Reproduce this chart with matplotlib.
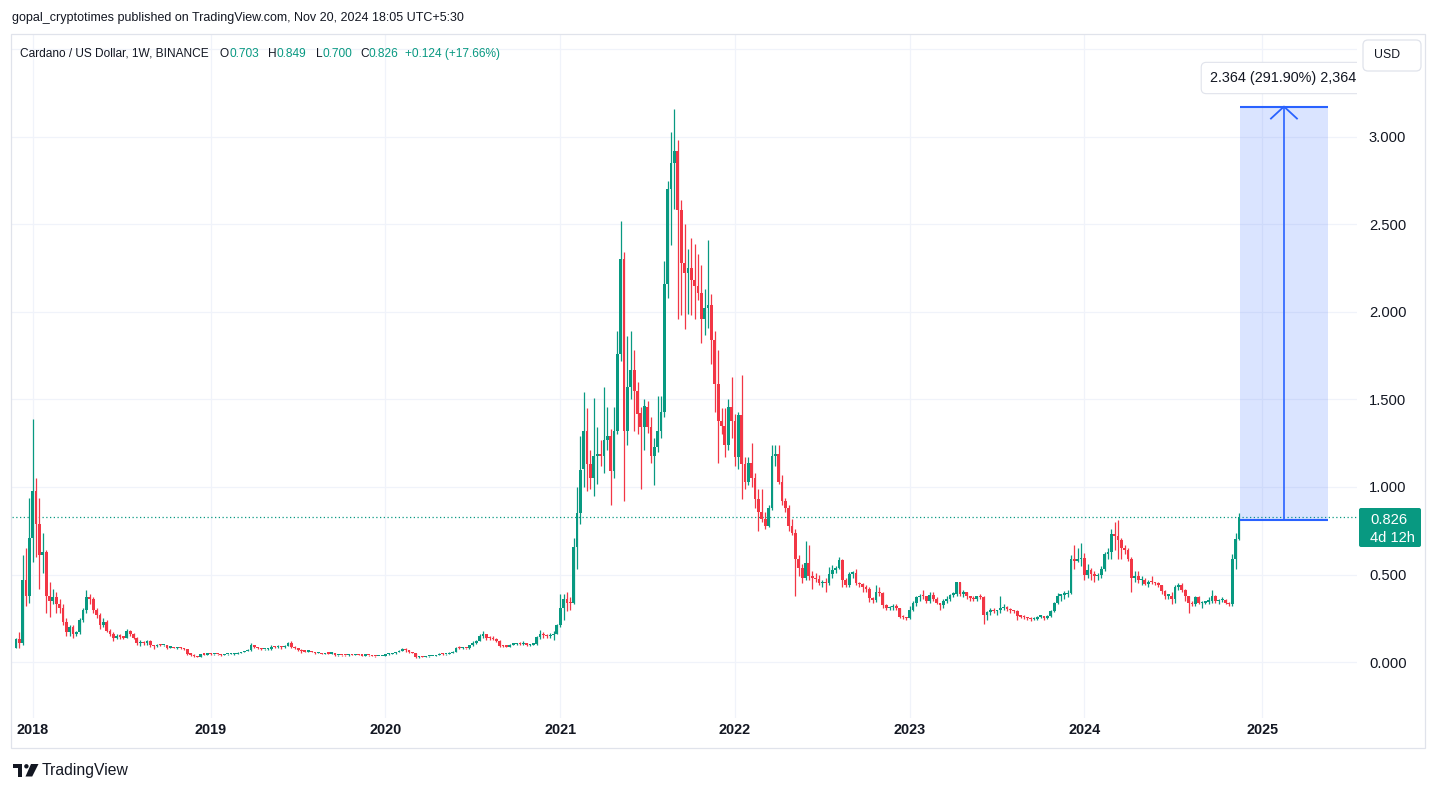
import matplotlib
matplotlib.use("Agg")
import matplotlib.pyplot as plt
import matplotlib.transforms as mtransforms
import numpy as np
from matplotlib.patches import Rectangle, FancyBboxPatch, Polygon, Circle

# ---------------- data: weekly ADA/USD candles, first bar = week of 2017-11-27 ----------------
first_open = 0.082

close_2018 = [0.13, 0.11, 0.47, 0.38, 0.71, 0.98, 0.79, 0.61, 0.63, 0.38,
              0.35, 0.37, 0.33, 0.31, 0.23, 0.17, 0.20, 0.16, 0.17, 0.24,
              0.30, 0.37, 0.36, 0.30, 0.27, 0.21, 0.23, 0.18, 0.16, 0.14,
              0.15, 0.145, 0.14, 0.18, 0.16, 0.14, 0.11, 0.115, 0.11, 0.12,
              0.10, 0.09, 0.10, 0.095, 0.098, 0.082, 0.083, 0.081, 0.082, 0.079,
              0.072, 0.048, 0.042, 0.033, 0.030, 0.045, 0.042, 0.048]
high_2018 = [0.14, 0.17, 0.61, 0.65, 0.94, 1.39, 1.05, 0.94, 0.74, 0.64,
             0.46, 0.42, 0.40, 0.36, 0.33, 0.25, 0.21, 0.21, 0.18, 0.25,
             0.31, 0.41, 0.39, 0.37, 0.31, 0.28, 0.25, 0.24, 0.19, 0.17,
             0.16, 0.16, 0.15, 0.19, 0.185, 0.165, 0.145, 0.125, 0.12, 0.125,
             0.125, 0.10, 0.105, 0.105, 0.10, 0.10, 0.088, 0.085, 0.085, 0.085,
             0.08, 0.073, 0.05, 0.043, 0.034, 0.048, 0.050, 0.052]
low_2018 = [0.08, 0.08, 0.10, 0.32, 0.34, 0.57, 0.60, 0.42, 0.51, 0.28,
            0.26, 0.33, 0.28, 0.28, 0.21, 0.15, 0.15, 0.14, 0.15, 0.16,
            0.23, 0.28, 0.33, 0.28, 0.25, 0.19, 0.20, 0.17, 0.15, 0.12,
            0.13, 0.13, 0.13, 0.14, 0.15, 0.13, 0.10, 0.09, 0.10, 0.10,
            0.085, 0.075, 0.085, 0.09, 0.09, 0.075, 0.078, 0.078, 0.077, 0.075,
            0.068, 0.040, 0.035, 0.030, 0.026, 0.029, 0.039, 0.040]

close_2019 = [0.043, 0.045, 0.043, 0.040, 0.043, 0.044, 0.045, 0.047, 0.053, 0.058,
              0.063, 0.066, 0.100, 0.086, 0.080, 0.074, 0.074, 0.074, 0.088, 0.084,
              0.090, 0.084, 0.092, 0.110, 0.088, 0.078, 0.069, 0.064, 0.060, 0.061,
              0.057, 0.050, 0.052, 0.047, 0.050, 0.048, 0.050, 0.038, 0.040, 0.039,
              0.038, 0.042, 0.041, 0.043, 0.040, 0.036, 0.039, 0.038, 0.035, 0.034,
              0.034, 0.036]
high_2019 = [0.050, 0.047, 0.046, 0.044, 0.044, 0.046, 0.052, 0.049, 0.055, 0.060,
             0.064, 0.073, 0.107, 0.100, 0.088, 0.082, 0.077, 0.078, 0.096, 0.094,
             0.096, 0.092, 0.098, 0.113, 0.120, 0.092, 0.080, 0.072, 0.065, 0.063,
             0.063, 0.058, 0.055, 0.053, 0.052, 0.051, 0.056, 0.050, 0.042, 0.042,
             0.040, 0.046, 0.043, 0.045, 0.044, 0.041, 0.040, 0.040, 0.038, 0.036,
             0.036, 0.037]
low_2019 = [0.040, 0.041, 0.041, 0.037, 0.038, 0.042, 0.043, 0.041, 0.045, 0.051,
            0.056, 0.061, 0.065, 0.082, 0.076, 0.068, 0.066, 0.070, 0.070, 0.078,
            0.080, 0.077, 0.082, 0.090, 0.078, 0.072, 0.065, 0.053, 0.057, 0.057,
            0.055, 0.048, 0.049, 0.044, 0.045, 0.046, 0.045, 0.036, 0.036, 0.037,
            0.036, 0.035, 0.039, 0.040, 0.039, 0.034, 0.033, 0.037, 0.034, 0.031,
            0.033, 0.033]

close_2020 = [0.043, 0.047, 0.050, 0.056, 0.064, 0.072, 0.068, 0.056, 0.052, 0.030,
              0.031, 0.029, 0.032, 0.034, 0.035, 0.040, 0.046, 0.044, 0.046, 0.053,
              0.060, 0.080, 0.078, 0.080, 0.078, 0.097, 0.110, 0.120, 0.150, 0.158,
              0.140, 0.136, 0.130, 0.118, 0.093, 0.090, 0.088, 0.100, 0.102, 0.106,
              0.104, 0.108, 0.096, 0.100, 0.102, 0.145, 0.160, 0.152, 0.148, 0.155,
              0.160, 0.210]
high_2020 = [0.045, 0.050, 0.053, 0.058, 0.067, 0.080, 0.078, 0.070, 0.058, 0.053,
             0.033, 0.033, 0.034, 0.037, 0.036, 0.042, 0.050, 0.050, 0.048, 0.056,
             0.064, 0.088, 0.090, 0.085, 0.082, 0.100, 0.118, 0.125, 0.158, 0.180,
             0.162, 0.150, 0.150, 0.135, 0.126, 0.098, 0.098, 0.103, 0.106, 0.110,
             0.112, 0.118, 0.110, 0.104, 0.107, 0.150, 0.185, 0.170, 0.160, 0.167,
             0.178, 0.215]
low_2020 = [0.034, 0.041, 0.044, 0.048, 0.055, 0.062, 0.060, 0.052, 0.049, 0.022,
            0.025, 0.027, 0.028, 0.031, 0.032, 0.034, 0.039, 0.041, 0.041, 0.045,
            0.050, 0.058, 0.074, 0.074, 0.074, 0.076, 0.093, 0.105, 0.118, 0.140,
            0.126, 0.128, 0.125, 0.112, 0.085, 0.084, 0.084, 0.083, 0.095, 0.097,
            0.100, 0.100, 0.094, 0.092, 0.098, 0.100, 0.130, 0.140, 0.140, 0.140,
            0.125, 0.160]

close_2021 = [0.31, 0.36, 0.34, 0.335, 0.66, 0.85, 1.10, 1.32, 1.13, 1.05,
              1.18, 1.19, 1.18, 1.27, 1.29, 1.09, 1.32, 1.76, 2.30, 1.32,
              1.57, 1.67, 1.55, 1.42, 1.34, 1.46, 1.345, 1.18, 1.23, 1.32,
              1.43, 2.16, 2.70, 2.85, 2.92, 2.58, 2.28, 2.22, 2.25, 2.18,
              2.15, 2.11, 1.96, 2.02, 2.04, 1.84, 1.59, 1.375, 1.35, 1.24,
              1.46, 1.38]
high_2021 = [0.39, 0.39, 0.40, 0.37, 0.71, 1.00, 1.29, 1.54, 1.45, 1.21,
             1.51, 1.34, 1.27, 1.57, 1.46, 1.33, 1.46, 1.89, 2.52, 2.34,
             1.86, 1.89, 1.78, 1.60, 1.46, 1.50, 1.49, 1.40, 1.28, 1.52,
             1.52, 2.29, 2.75, 3.03, 3.16, 2.98, 2.64, 2.50, 2.36, 2.42,
             2.39, 2.33, 2.27, 2.13, 2.41, 2.10, 1.89, 1.78, 1.45, 1.45,
             1.50, 1.63]
low_2021 = [0.20, 0.24, 0.29, 0.30, 0.33, 0.53, 0.79, 1.00, 0.98, 0.99,
            0.95, 1.02, 1.12, 1.08, 1.21, 0.90, 1.05, 1.30, 1.72, 0.92,
            1.24, 1.50, 1.32, 1.30, 0.99, 1.21, 1.31, 1.14, 1.01, 1.20,
            1.28, 1.40, 2.08, 2.38, 2.59, 1.96, 1.98, 1.90, 1.99, 1.98,
            1.96, 2.07, 1.82, 1.87, 1.91, 1.70, 1.43, 1.14, 1.30, 1.17,
            1.21, 1.28]

close_2022 = [1.17, 1.41, 1.13, 1.03, 1.14, 1.05, 0.93, 0.86, 0.82, 0.78,
              0.88, 1.18, 1.19, 1.03, 0.92, 0.88, 0.78, 0.735, 0.59, 0.535,
              0.48, 0.565, 0.49, 0.48, 0.475, 0.45, 0.46, 0.45, 0.505, 0.525,
              0.535, 0.585, 0.47, 0.44, 0.505, 0.51, 0.45, 0.445, 0.43, 0.42,
              0.365, 0.355, 0.40, 0.395, 0.325, 0.31, 0.315, 0.318, 0.31, 0.26,
              0.255, 0.25]
high_2022 = [1.42, 1.43, 1.64, 1.17, 1.17, 1.25, 1.08, 0.99, 0.99, 0.86,
             0.90, 1.24, 1.24, 1.24, 1.07, 0.94, 0.90, 0.82, 0.76, 0.61,
             0.56, 0.69, 0.67, 0.52, 0.51, 0.50, 0.47, 0.48, 0.545, 0.555,
             0.55, 0.60, 0.59, 0.48, 0.515, 0.52, 0.53, 0.46, 0.45, 0.44,
             0.43, 0.37, 0.44, 0.43, 0.40, 0.33, 0.32, 0.33, 0.33, 0.31,
             0.27, 0.26]
low_2022 = [1.12, 1.10, 0.93, 0.99, 1.01, 1.00, 0.88, 0.75, 0.80, 0.76,
            0.77, 0.87, 1.12, 1.02, 0.90, 0.86, 0.75, 0.725, 0.38, 0.49,
            0.45, 0.47, 0.47, 0.42, 0.46, 0.44, 0.43, 0.40, 0.44, 0.48,
            0.51, 0.53, 0.43, 0.43, 0.43, 0.48, 0.44, 0.43, 0.40, 0.40,
            0.345, 0.34, 0.345, 0.38, 0.31, 0.30, 0.30, 0.30, 0.30, 0.25,
            0.245, 0.24]

close_2023 = [0.30, 0.34, 0.37, 0.38, 0.375, 0.35, 0.385, 0.36, 0.335, 0.325,
              0.35, 0.36, 0.385, 0.39, 0.455, 0.39, 0.40, 0.38, 0.365, 0.36,
              0.375, 0.37, 0.27, 0.285, 0.295, 0.29, 0.295, 0.31, 0.31, 0.305,
              0.295, 0.29, 0.265, 0.26, 0.255, 0.25, 0.245, 0.245, 0.26, 0.262,
              0.25, 0.265, 0.29, 0.34, 0.38, 0.385, 0.39, 0.395, 0.59, 0.575,
              0.59, 0.595]
high_2023 = [0.32, 0.35, 0.38, 0.39, 0.41, 0.38, 0.40, 0.40, 0.37, 0.34,
             0.36, 0.38, 0.39, 0.40, 0.46, 0.46, 0.41, 0.40, 0.38, 0.375,
             0.38, 0.39, 0.38, 0.29, 0.31, 0.31, 0.30, 0.38, 0.33, 0.32,
             0.31, 0.30, 0.30, 0.27, 0.27, 0.26, 0.255, 0.255, 0.265, 0.27,
             0.265, 0.27, 0.30, 0.345, 0.395, 0.39, 0.405, 0.41, 0.61, 0.67,
             0.65, 0.678]
low_2023 = [0.245, 0.29, 0.32, 0.35, 0.36, 0.34, 0.34, 0.35, 0.33, 0.30,
            0.31, 0.34, 0.35, 0.37, 0.38, 0.38, 0.37, 0.36, 0.35, 0.35,
            0.35, 0.36, 0.22, 0.24, 0.27, 0.28, 0.27, 0.28, 0.30, 0.29,
            0.28, 0.28, 0.24, 0.25, 0.245, 0.24, 0.235, 0.24, 0.24, 0.25,
            0.24, 0.245, 0.26, 0.285, 0.33, 0.35, 0.36, 0.37, 0.39, 0.53,
            0.57, 0.55]

close_2024 = [0.50, 0.525, 0.505, 0.49, 0.495, 0.53, 0.62, 0.63, 0.73, 0.72,
              0.70, 0.65, 0.64, 0.59, 0.48, 0.49, 0.47, 0.47, 0.445, 0.46,
              0.455, 0.45, 0.44, 0.405, 0.38, 0.38, 0.36, 0.43, 0.44, 0.41,
              0.375, 0.335, 0.33, 0.37, 0.335, 0.34, 0.345, 0.35, 0.38, 0.35,
              0.352, 0.355, 0.34, 0.33, 0.59, 0.703, 0.826]
high_2024 = [0.625, 0.56, 0.54, 0.52, 0.51, 0.55, 0.63, 0.65, 0.76, 0.80,
             0.81, 0.71, 0.67, 0.65, 0.60, 0.52, 0.52, 0.49, 0.48, 0.47,
             0.49, 0.46, 0.46, 0.44, 0.41, 0.39, 0.40, 0.44, 0.45, 0.45,
             0.42, 0.38, 0.35, 0.38, 0.375, 0.35, 0.35, 0.37, 0.41, 0.385,
             0.36, 0.37, 0.36, 0.345, 0.62, 0.74, 0.849]
low_2024 = [0.47, 0.48, 0.47, 0.46, 0.47, 0.48, 0.52, 0.59, 0.59, 0.64,
            0.59, 0.59, 0.62, 0.58, 0.40, 0.46, 0.45, 0.44, 0.44, 0.43,
            0.445, 0.44, 0.43, 0.39, 0.36, 0.36, 0.33, 0.34, 0.41, 0.40,
            0.35, 0.28, 0.32, 0.32, 0.33, 0.31, 0.33, 0.33, 0.34, 0.34,
            0.33, 0.345, 0.33, 0.32, 0.32, 0.53, 0.700]

price_ticks = [0.0, 0.5, 1.0, 1.5, 2.0, 2.5, 3.0]
year_bars = [5, 58, 110, 162, 214, 266, 318, 371]     # first weekly bar of each year
year_labels = ['2018', '2019', '2020', '2021', '2022', '2023', '2024', '2025']

measure_start, measure_delta = 0.81, 2.364
measure_label = "2.364 (291.90%) 2,364"
measure_bars = (364.3, 390.5)

header = "gopal_cryptotimes published on TradingView.com, Nov 20, 2024 18:05 UTC+5:30"
symbol = "Cardano / US Dollar, 1W, BINANCE"
ohlc_last = [("O", "0.703"), ("H", "0.849"), ("L", "0.700"), ("C", "0.826")]
change_txt = "+0.124 (+17.66%)"
countdown = "4d 12h"

# ---------------- assemble ----------------
closes = close_2018 + close_2019 + close_2020 + close_2021 + close_2022 + close_2023 + close_2024
highs = high_2018 + high_2019 + high_2020 + high_2021 + high_2022 + high_2023 + high_2024
lows = low_2018 + low_2019 + low_2020 + low_2021 + low_2022 + low_2023 + low_2024
assert len(closes) == len(highs) == len(lows) == 365, (len(closes), len(highs), len(lows))
opens = [first_open] + closes[:-1]

# ---------------- figure ----------------
W, H = 1438, 792
fig = plt.figure(figsize=(W / 100, H / 100), dpi=100)
fig.patch.set_facecolor('white')
renderer = fig.canvas.get_renderer()
PX = mtransforms.IdentityTransform()

FAM = ['Liberation Sans', 'DejaVu Sans']
DARK = '#131722'
UP = '#089981'
DOWN = '#f23645'
GRID = '#f0f3fa'
BORDER = '#e0e3eb'
BLUE = '#2962ff'


def fx(x):
    return x / W


def fy(y):
    return 1 - y / H


def text_width(s, size, weight='normal'):
    t = fig.text(0, 0, s, fontsize=size, family=FAM, weight=weight)
    w = t.get_window_extent(renderer=renderer).width
    t.remove()
    return w


def fit(s, target, weight='normal'):
    return 10.0 * target / text_width(s, 10.0, weight)


# plot geometry (pixels)
X0_PX, STEP_PX = 15.9, 3.36
Y0_PX, UNIT_PX = 662.0, 175.0
AX_L, AX_R, AX_T, AX_B = 12, 1357, 35, 718

ax = fig.add_axes([fx(AX_L), fy(AX_B), (AX_R - AX_L) / W, (AX_B - AX_T) / H])
ax.set_xlim((AX_L - X0_PX) / STEP_PX, (AX_R - X0_PX) / STEP_PX)
ax.set_ylim((Y0_PX - AX_B) / UNIT_PX, (Y0_PX - AX_T) / UNIT_PX)
ax.set_facecolor('white')
for sp in ax.spines.values():
    sp.set_visible(False)

# grid
for v in price_ticks + [3.5]:
    ax.axhline(v, color=GRID, lw=0.9, zorder=0)
for b in year_bars:
    ax.axvline(b, color=GRID, lw=0.9, zorder=0)

# candles
idx = np.arange(len(closes))
o = np.array(opens)
c = np.array(closes)
hi = np.maximum(np.array(highs), np.maximum(o, c))
lo = np.minimum(np.array(lows), np.minimum(o, c))
col = np.where(c >= o, UP, DOWN)
ax.vlines(idx, lo, hi, colors=col, lw=0.9, zorder=3)
body = np.maximum(np.abs(c - o), 0.007)
ax.bar(idx, body, bottom=np.minimum(o, c), width=0.82, color=col, lw=0, zorder=4)

# last price dotted line
ax.axhline(closes[-1], color=UP, lw=0.9, ls=(0, (1, 2)), zorder=2)

# measure tool
x0m, x1m = measure_bars
top = measure_start + measure_delta
ax.add_patch(Rectangle((x0m, measure_start), x1m - x0m, measure_delta,
                       facecolor=BLUE, alpha=0.17, lw=0, zorder=5))
ax.hlines([measure_start, top], x0m, x1m, color=BLUE, lw=1.5, zorder=6)
xm = (x0m + x1m) / 2
ax.vlines(xm, measure_start, top, color=BLUE, lw=1.2, zorder=6)
ax.plot([xm - 13 / STEP_PX, xm, xm + 13 / STEP_PX],
        [top - 12 / UNIT_PX, top, top - 12 / UNIT_PX], color=BLUE, lw=1.3, zorder=6)
msz = fit(measure_label, 147)
ax.text((1283 - X0_PX) / STEP_PX, (Y0_PX - 78) / UNIT_PX, measure_label, ha='center', va='center',
        fontsize=msz, family=FAM, color=DARK, zorder=10, clip_on=True,
        bbox=dict(boxstyle='round,pad=0.6,rounding_size=0.35', fc='white', ec=BORDER, lw=0.8))

# axis ticks
ax.set_yticks(price_ticks)
ax.set_yticklabels([f'{v:.3f}' for v in price_ticks])
ax.yaxis.tick_right()
ysz = fit('0.500', 37)
ax.tick_params(axis='y', length=0, pad=8.6, labelsize=ysz, labelcolor=DARK)
for lab in ax.get_yticklabels():
    lab.set_family(FAM)
ax.set_xticks(year_bars)
ax.set_xticklabels(year_labels)
xsz = fit('2018', 32, 'bold')
ax.tick_params(axis='x', length=0, pad=3.5, labelsize=xsz, labelcolor=DARK)
for lab in ax.get_xticklabels():
    lab.set_family(FAM)
    lab.set_fontweight('bold')

# ---------------- figure-level decorations (pixel coords) ----------------
def rect_px(x0, y0, x1, y1, **kw):
    p = Rectangle((x0, H - y1), x1 - x0, y1 - y0, transform=PX, **kw)
    fig.add_artist(p)
    return p


# outer frame
rect_px(10.5, 33.5, 1424.5, 747.5, fill=False, ec=BORDER, lw=0.9, zorder=20)

# header
hsz = fit(header, 451)
fig.text(fx(12), fy(18), header, fontsize=hsz, family=FAM, color=DARK, va='center', ha='left')

# legend line
lsz = fit(symbol, 190)
fig.text(fx(20), fy(54), symbol, fontsize=lsz, family=FAM, color=DARK, va='center', ha='left')
for (letter, val), xs in zip(ohlc_last, [220, 268, 316, 360]):
    fig.text(fx(xs), fy(54), letter, fontsize=lsz, family=FAM, color=DARK, va='center', ha='left')
    wl = text_width(letter, lsz)
    fig.text(fx(xs + wl), fy(54), val, fontsize=lsz, family=FAM, color=UP, va='center', ha='left')
fig.text(fx(405), fy(54), change_txt, fontsize=lsz, family=FAM, color=UP, va='center', ha='left')

# USD button
usd = FancyBboxPatch((1363, H - 71), 58, 31, boxstyle='round,pad=0,rounding_size=5',
                     transform=PX, fc='white', ec=BORDER, lw=0.9, zorder=20)
fig.add_artist(usd)
fig.text(fx(1387), fy(55.5), 'USD', fontsize=fit('USD', 26), family=FAM, color=DARK,
         ha='center', va='center', zorder=21)

# last price label
plab = FancyBboxPatch((1359, H - 547), 62, 39, boxstyle='round,pad=0,rounding_size=2',
                      transform=PX, fc=UP, ec='none', zorder=20)
fig.add_artist(plab)
psz = fit('0.826', 37)
fig.text(fx(1370), fy(519.5), f'{closes[-1]:.3f}', fontsize=psz, family=FAM, color='white',
         ha='left', va='center', zorder=21)
fig.text(fx(1370), fy(538), countdown, fontsize=fit(countdown, 45), family=FAM, color='white',
         ha='left', va='center', zorder=21)

# TradingView logo + wordmark
rect_px(13, 764, 22, 767.6, fc=DARK, ec='none', zorder=20)
rect_px(17.6, 764, 22, 776.5, fc=DARK, ec='none', zorder=20)
fig.add_artist(Circle((26.4, H - 766.3), 2.2, transform=PX, fc=DARK, ec='none', zorder=20))
fig.add_artist(Polygon([(31, H - 764), (38.5, H - 764), (32.2, H - 776.5), (25.5, H - 776.5)],
                       closed=True, transform=PX, fc=DARK, ec='none', zorder=20))
fig.text(fx(42), fy(770.5), 'TradingView', fontsize=fit('TradingView', 87), family=FAM,
         color=DARK, ha='left', va='center')

fig.savefig('out.png', dpi=100, facecolor='white')
